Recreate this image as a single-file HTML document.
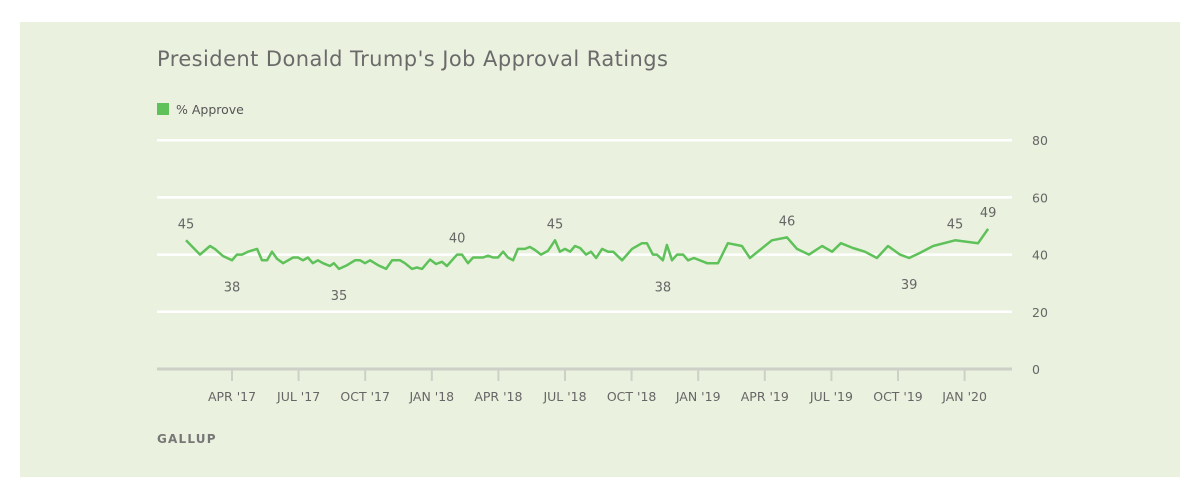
<!DOCTYPE html>
<html><head><meta charset="utf-8"><style>
html,body{margin:0;padding:0;background:#fff;width:1200px;height:495px;overflow:hidden;font-family:"DejaVu Sans","Liberation Sans",sans-serif}
#panel{position:absolute;left:20px;top:22px;width:1160px;height:455px;background:#eaf2df}
svg text{font-family:"DejaVu Sans","Liberation Sans",sans-serif}
</style></head><body>
<div id="panel"></div>
<svg id="chart" width="1200" height="495" style="position:absolute;left:0;top:0">
<text x="157" y="66" font-size="21" fill="#6a6a6a" textLength="511">President Donald Trump's Job Approval Ratings</text>
<g>
<rect x="157" y="103" width="12" height="12" fill="#5fc15a"></rect>
<text x="176" y="114" font-size="12.5" fill="#555">% Approve</text>
</g>
<g id="grid"></g><g id="axis"></g><g id="series"></g><g id="labels"></g>
<text x="157" y="443" font-size="12" font-weight="bold" fill="#777" letter-spacing="1.2">GALLUP</text>
</svg>
<script>
const months=[0.93,1.56,2.01,2.23,2.59,3.0,3.22,3.45,3.72,4.13,4.35,4.58,4.8,5.03,5.3,5.75,5.97,6.2,6.42,6.64,6.87,7.1,7.41,7.59,7.82,8.18,8.54,8.77,8.99,9.22,9.58,9.94,10.21,10.57,10.79,11.11,11.33,11.56,11.92,12.19,12.46,12.68,13.14,13.36,13.63,13.86,14.31,14.53,14.76,14.98,15.21,15.43,15.66,15.88,16.2,16.42,16.65,16.92,17.23,17.55,17.77,18.0,18.23,18.45,18.68,18.95,19.17,19.4,19.67,19.94,20.17,20.57,21.02,21.47,21.69,21.96,22.14,22.41,22.59,22.82,23.05,23.32,23.54,23.81,24.4,24.89,25.34,25.97,26.33,27.32,28.0,28.45,28.99,29.58,30.03,30.43,30.97,31.51,32.05,32.55,33.09,33.5,33.99,34.58,35.57,36.61,37.06];
const approve=[45,40,43,42,39.5,38,40,40,41,42,38,38,41,38.5,37,39,39,38,39,37,38,37,36,37,35,36.3,38,38,37,38,36.3,35,38,38,37,35,35.5,35,38.3,36.7,37.5,36,40,40,37,39,39,39.6,39,39,41,39,38,42,42,42.7,41.6,40,41.3,45,41,42,41,43,42.3,40,41,38.8,42,41,41,38,42,44,44,40,40,38,43.4,38,40,40,38,38.8,37,37,44,43,38.8,45,46,42,40,43,41,44,42.3,41,38.8,43,40,38.8,40.6,43,45,44,49];
const labelIdx=[0,5,24,42,59,77,90,101,104,106];
const labelAbove=[1,0,0,1,1,0,1,0,1,1];
const tickMonths=[3,6,9,12,15,18,21,24,27,30,33,36];
const tickLabels=["APR '17","JUL '17","OCT '17","JAN '18","APR '18","JUL '18","OCT '18","JAN '19","APR '19","JUL '19","OCT '19","JAN '20"];
const yTicks=[0,20,40,60,80];
const NS="http://www.w3.org/2000/svg";
const xs=m=>165.4+m*22.2, ys=v=>369-v*2.86;
function mk(t,a,p){const e=document.createElementNS(NS,t);for(const k in a)e.setAttribute(k,a[k]);document.getElementById(p).appendChild(e);return e;}
yTicks.forEach(v=>{
 if(v>0){const l=mk('line',{x1:157,x2:1012,y1:ys(v),y2:ys(v),stroke:'#fff','stroke-width':2.5},'grid');
 
 }
 const t=mk('text',{x:1032,y:ys(v)+5,'font-size':12.5,fill:'#666'},'grid');t.textContent=v;
 
 
});
const ax=mk('line',{x1:157,x2:1012,y1:369,y2:369,stroke:'#ccd0c6','stroke-width':3},'axis');


tickMonths.forEach((m,i)=>{
 const tk=mk('line',{x1:xs(m),x2:xs(m),y1:369,y2:381,stroke:'#ccd0c6','stroke-width':2},'axis');
 
 
 const t=mk('text',{x:xs(m),y:401,'font-size':12.5,fill:'#666','text-anchor':'middle'},'axis');t.textContent=tickLabels[i];
 
 
});
const pts=months.map((m,i)=>xs(m).toFixed(1)+','+ys(approve[i]).toFixed(1)).join(' ');
const pl=mk('polyline',{points:pts,fill:'none',stroke:'#5fc15a','stroke-width':2.5,'stroke-linejoin':'round'},'series');


labelIdx.forEach((idx,j)=>{
 const y=labelAbove[j]?ys(approve[idx])-12:ys(approve[idx])+31;
 const t=mk('text',{x:xs(months[idx]),y:y,'font-size':13,fill:'#666','text-anchor':'middle'},'labels');
 t.textContent=Math.round(approve[idx]);
 
 
});
</script>
</body></html>
